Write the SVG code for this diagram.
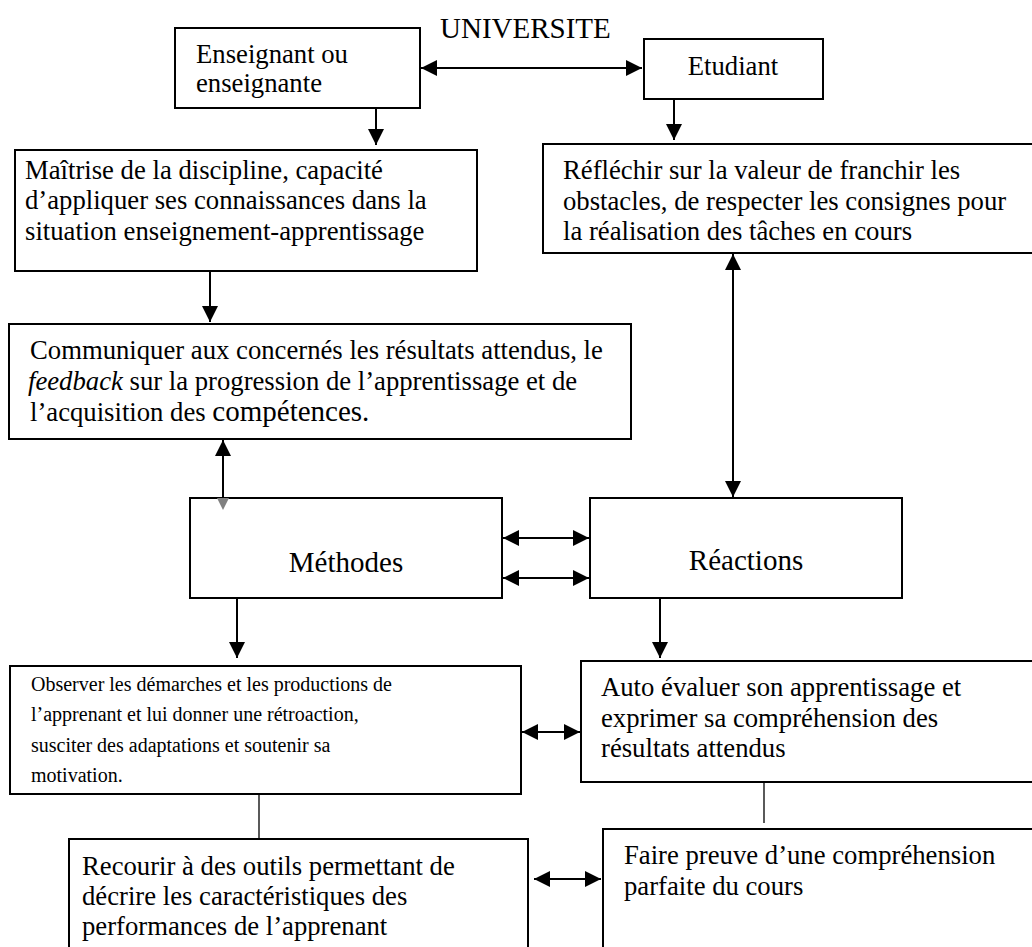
<svg xmlns="http://www.w3.org/2000/svg" width="1032" height="947" viewBox="0 0 1032 947">
<style>
text{font-family:"Liberation Serif","Times New Roman",serif;font-size:26.7px;fill:#000}
.big{font-size:29px}
.small{font-size:20px}
.box{fill:#fff;stroke:#000;stroke-width:2}
.ln{stroke:#000;stroke-width:2;fill:none}
.thin{stroke:#000;stroke-width:1.3;fill:none}
</style>
<defs>
<marker id="ah" markerUnits="userSpaceOnUse" markerWidth="16" markerHeight="16" refX="14" refY="7" orient="auto-start-reverse" viewBox="0 0 14 14">
<path d="M0,0 L14,7 L0,14 z" fill="#000"/>
</marker>
</defs>
<rect width="1032" height="947" fill="#fff"/>
<text id="title" class="big" x="440" y="38">UNIVERSITE</text>

<g id="n-enseignant"><rect class="box" x="175" y="28" width="245" height="80"/>
<text x="196" y="63">Enseignant ou</text><text x="196" y="92">enseignante</text></g>

<g id="n-etudiant"><rect class="box" x="644" y="39" width="179" height="60"/>
<text x="733" y="75" text-anchor="middle">Etudiant</text></g>

<g id="n-maitrise"><rect class="box" x="15" y="150" width="462" height="121"/>
<text x="25" y="179">Maîtrise de la discipline, capacité</text>
<text x="25" y="209">d’appliquer ses connaissances dans la</text>
<text x="25" y="240">situation enseignement-apprentissage</text></g>

<g id="n-reflechir"><rect class="box" x="543" y="144" width="500" height="109"/>
<text x="563" y="179">Réfléchir sur la valeur de franchir les</text>
<text x="563" y="210">obstacles, de respecter les consignes pour</text>
<text x="563" y="240">la réalisation des tâches en cours</text></g>

<g id="n-communiquer"><rect class="box" x="9" y="324" width="622" height="115"/>
<text x="30" y="359">Communiquer aux concernés les résultats attendus, le</text>
<text x="28" y="390"><tspan font-style="italic">feedback</tspan> sur la progression de l’apprentissage et de</text>
<text x="30" y="421">l’acquisition des <tspan font-size="29px">compétences.</tspan></text></g>

<g id="n-methodes"><rect class="box" x="190" y="498" width="312" height="100"/>
<text class="big" x="346" y="572" text-anchor="middle">Méthodes</text></g>

<g id="n-reactions"><rect class="box" x="590" y="498" width="312" height="100"/>
<text class="big" x="746" y="570" text-anchor="middle">Réactions</text></g>

<g id="n-observer"><rect class="box" x="10" y="666" width="511" height="128"/>
<text class="small" x="31" y="691">Observer les démarches et les productions de</text>
<text class="small" x="31" y="721">l’apprenant et lui donner une rétroaction,</text>
<text class="small" x="31" y="752">susciter des adaptations et soutenir sa</text>
<text class="small" x="31" y="782">motivation.</text></g>

<g id="n-auto"><rect class="box" x="581" y="661" width="460" height="121"/>
<text x="601" y="696">Auto évaluer son apprentissage et</text>
<text x="601" y="727">exprimer sa compréhension des</text>
<text x="601" y="757">résultats attendus</text></g>

<g id="n-recourir"><rect class="box" x="69" y="839" width="459" height="120"/>
<text x="82" y="875">Recourir à des outils permettant de</text>
<text x="82" y="905">décrire les caractéristiques des</text>
<text x="82" y="935">performances de l’apprenant</text></g>

<g id="n-faire"><rect class="box" x="603" y="829" width="440" height="130"/>
<text x="624" y="864">Faire preuve d’une compréhension</text>
<text x="624" y="895">parfaite du cours</text></g>

<g id="connectors">
<line class="ln" x1="421" y1="68" x2="642" y2="68" marker-start="url(#ah)" marker-end="url(#ah)"/>
<line class="ln" x1="376" y1="108" x2="376" y2="145" marker-end="url(#ah)"/>
<line class="ln" x1="674" y1="99" x2="674" y2="140" marker-end="url(#ah)"/>
<line class="ln" x1="210" y1="271" x2="210" y2="322" marker-end="url(#ah)"/>
<line class="ln" x1="733" y1="254" x2="733" y2="497" marker-start="url(#ah)" marker-end="url(#ah)"/>
<line class="ln" x1="223" y1="440" x2="223" y2="498" marker-start="url(#ah)"/>
<path d="M217,498 L229,498 L223,510 z" fill="#808080"/>
<line class="ln" x1="503" y1="538" x2="589" y2="538" marker-start="url(#ah)" marker-end="url(#ah)"/>
<line class="ln" x1="503" y1="578" x2="589" y2="578" marker-start="url(#ah)" marker-end="url(#ah)"/>
<line class="ln" x1="237" y1="598" x2="237" y2="658" marker-end="url(#ah)"/>
<line class="ln" x1="660" y1="598" x2="660" y2="658" marker-end="url(#ah)"/>
<line class="ln" x1="522" y1="732" x2="580" y2="732" marker-start="url(#ah)" marker-end="url(#ah)"/>
<line class="thin" x1="259" y1="795" x2="259" y2="839"/>
<line class="thin" x1="764" y1="782" x2="764" y2="823"/>
<line class="ln" x1="534" y1="879" x2="601" y2="879" marker-start="url(#ah)" marker-end="url(#ah)"/>
</g>
</svg>
